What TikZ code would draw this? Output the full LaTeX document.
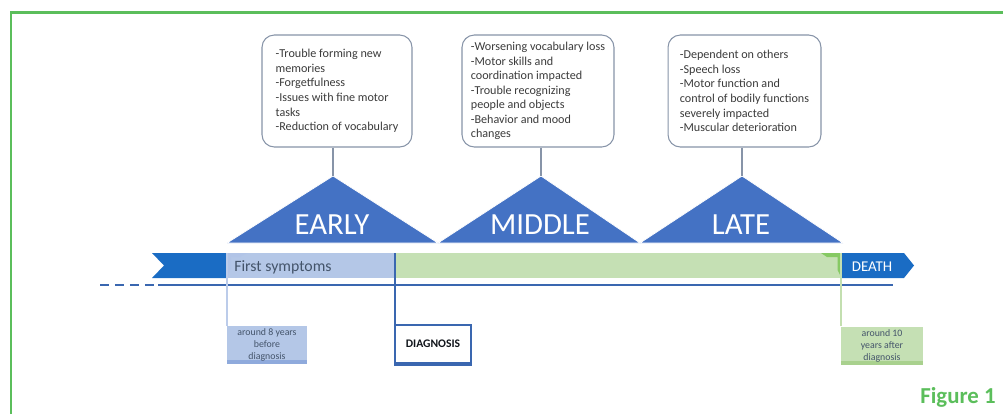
\documentclass[tikz,border=0pt]{standalone}
\usepackage{fontspec}
\setmainfont{Carlito}
\usepackage{tikz}
\usetikzlibrary{calc, positioning}
\definecolor{stageblue}{HTML}{4472C4}
\definecolor{barblue}{HTML}{1A6CC4}
\definecolor{lineblue}{HTML}{3A67B0}
\definecolor{earlyfill}{HTML}{B4C7E7}
\definecolor{earlydark}{HTML}{8FAADC}
\definecolor{latefill}{HTML}{C5E0B4}
\definecolor{latedark}{HTML}{A9D18E}
\definecolor{cornergreen}{HTML}{86C963}
\definecolor{boxline}{HTML}{8794A8}
\definecolor{boxtext}{HTML}{3B3B3B}
\definecolor{slatetext}{HTML}{44546A}
\definecolor{framegreen}{HTML}{5BBE5B}
\tikzset{
    symptombox/.style={draw=boxline, line width=0.6pt, rounded corners=7pt, fill=white, align=left, inner sep=0pt, text=boxtext, minimum height=2.24cm, font=\fontsize{6.9}{8.3}\selectfont},
    stagelabel/.style={text=white, inner sep=0pt, font=\fontsize{17.5}{20}\selectfont},
    tagbox/.style={inner sep=0pt, align=center, minimum height=0.76cm, text=slatetext, font=\fontsize{5.6}{6.8}\selectfont},
    stripe/.style={path picture={\fill[#1] (path picture bounding box.south west) rectangle ([yshift=0.08cm]path picture bounding box.south east);}},
}

\begin{document}
\begin{tikzpicture}[x=0.02cm, y=-0.02cm]
    \useasboundingbox (0,0) rectangle (1003,414);
    % Frame (open at right and bottom)
    \draw[framegreen, line width=1.4pt] (11,414) -- (11,12.5) -- (1003,12.5);
    \node[text=framegreen, anchor=east, inner sep=0pt, font=\fontsize{13}{15}\bfseries] (figlabel) at (996,397) {Figure 1};

    % Stage triangles
    \foreach \name/\lx/\tx/\rx/\stage in {early/227/333/438/EARLY, middle/438/541/640/MIDDLE, late/640/742/843/LATE} {
        \filldraw[fill=stageblue, draw=white, line width=0.4pt] (\lx,243) -- (\tx,176) -- (\rx,243) -- cycle;
        \coordinate (\name top) at (\tx,176);
        \node[stagelabel] (\name label) at (\tx-1,225) {\stage};
    }

    % Symptom boxes
    \node[symptombox, minimum width=3cm] (earlybox) at (337,91) {-Trouble forming new\\memories\\-Forgetfulness\\-Issues with fine motor\\tasks\\-Reduction of vocabulary};
    \node[symptombox, minimum width=3.04cm] (middlebox) at (538,91) {-Worsening vocabulary loss\\-Motor skills and\\coordination impacted\\-Trouble recognizing\\people and objects\\-Behavior and mood\\changes};
    \node[symptombox, minimum width=3.06cm] (latebox) at (744.5,91) {-Dependent on others\\-Speech loss\\-Motor function and\\control of bodily functions\\severely impacted\\-Muscular deterioration};
    \foreach \name in {early, middle, late} {
        \draw[boxline, line width=0.6pt] (\name box.south -| \name top) -- (\name top);
    }

    % Timeline bar
    \fill[barblue] (152,253) -- (228,253) -- (228,278) -- (152,278) -- (164,265.5) -- cycle;
    \fill[earlyfill] (228,253) rectangle (395,278);
    \fill[earlydark!70] (228,253) -- (247,253) -- (240,257) -- (231,257) -- (231,268) -- (228,276) -- cycle;
    \fill[latefill] (395,253) rectangle (841,278);
    \fill[cornergreen] (821,253) -- (841,253) -- (841,277) -- (837.5,270) -- (837.5,257) -- (827,257) -- cycle;
    \fill[barblue] (841,253) -- (904,253) -- (914,265.5) -- (904,278) -- (841,278) -- cycle;
    \node[anchor=west, inner sep=0pt, text=slatetext, font=\fontsize{9}{11}\selectfont] (firstsym) at (234,267) {First symptoms};
    \node[inner sep=0pt, text=white, font=\fontsize{8.5}{10}\selectfont] (deathlabel) at (872,267) {DEATH};

    \coordinate (onset) at (227,253);
    \coordinate (diagpoint) at (395,253);
    \coordinate (deathpoint) at (841,253);
    \coordinate (dashstart) at (100,285);
    \coordinate (linestart) at (158,285);
    \coordinate (lineend) at (893,285);

    % Time axis
    \draw[lineblue, line width=1.1pt, dash pattern=on 0.18cm off 0.12cm] (dashstart) -- (linestart);
    \draw[lineblue, line width=1.1pt] (linestart) -- (lineend);

    % Milestone tags
    \node[tagbox, minimum width=1.6cm, fill=earlyfill, stripe=earlydark] (eightbox) at (267,345) {around 8 years\\before\\diagnosis};
    \node[tagbox, minimum width=1.52cm, draw=lineblue, line width=1.1pt, fill=white, text=black!75!slatetext, font=\fontsize{6.6}{8}\bfseries] (diagbox) at (433,344) {DIAGNOSIS};
    \node[tagbox, minimum width=1.64cm, fill=latefill, stripe=latedark] (tenbox) at (882,345.5) {around 10\\years after\\diagnosis};
    \draw[lineblue, line width=2pt] (diagbox.south west) -- (diagbox.south east);

    % Ticks down to the tags
    \draw[earlydark!60, line width=0.6pt] (onset) -- (onset |- eightbox.north);
    \draw[lineblue, line width=1.1pt] (diagpoint) -- (diagpoint |- diagbox.south);
    \draw[latedark!70, line width=0.6pt] (deathpoint) -- (deathpoint |- tenbox.north);
\end{tikzpicture}
\end{document}
